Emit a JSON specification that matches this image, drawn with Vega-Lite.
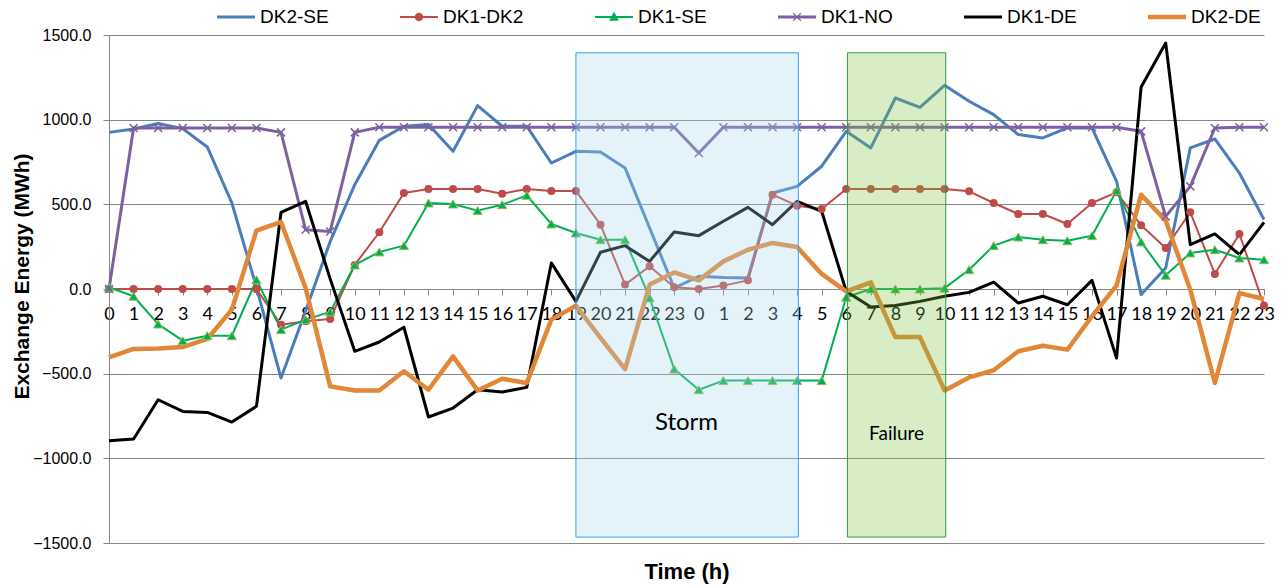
{
  "$schema": "https://vega.github.io/schema/vega-lite/v6.json",
  "autosize": "none",
  "width": 1155,
  "height": 508,
  "padding": {"left": 109, "top": 35, "right": 18, "bottom": 45},
  "background": "white",
  "config": {"view": {"stroke": null}},
  "datasets": {
    "bands": [
      {"label": "Storm", "start": 19, "end": 28.05, "lo": -1465, "hi": 1395, "lx": 23.5, "ly": -789},
      {"label": "Failure", "start": 30.05, "end": 34.05, "lo": -1465, "hi": 1395, "lx": 32.05, "ly": -854}
    ],
    "flows": [
      {"t":0,"s":"DK2-SE","v":925},{"t":1,"s":"DK2-SE","v":945},{"t":2,"s":"DK2-SE","v":977},{"t":3,"s":"DK2-SE","v":947},{"t":4,"s":"DK2-SE","v":839},{"t":5,"s":"DK2-SE","v":508},{"t":6,"s":"DK2-SE","v":10},{"t":7,"s":"DK2-SE","v":-526},{"t":8,"s":"DK2-SE","v":-130},{"t":9,"s":"DK2-SE","v":280},{"t":10,"s":"DK2-SE","v":616},{"t":11,"s":"DK2-SE","v":878},{"t":12,"s":"DK2-SE","v":961},{"t":13,"s":"DK2-SE","v":971},{"t":14,"s":"DK2-SE","v":813},{"t":15,"s":"DK2-SE","v":1083},{"t":16,"s":"DK2-SE","v":961},{"t":17,"s":"DK2-SE","v":961},{"t":18,"s":"DK2-SE","v":744},{"t":19,"s":"DK2-SE","v":813},{"t":20,"s":"DK2-SE","v":809},{"t":21,"s":"DK2-SE","v":715},{"t":22,"s":"DK2-SE","v":360},{"t":23,"s":"DK2-SE","v":6},{"t":24,"s":"DK2-SE","v":75},{"t":25,"s":"DK2-SE","v":68},{"t":26,"s":"DK2-SE","v":65},{"t":27,"s":"DK2-SE","v":567},{"t":28,"s":"DK2-SE","v":606},{"t":29,"s":"DK2-SE","v":725},{"t":30,"s":"DK2-SE","v":931},{"t":31,"s":"DK2-SE","v":833},{"t":32,"s":"DK2-SE","v":1128},{"t":33,"s":"DK2-SE","v":1073},{"t":34,"s":"DK2-SE","v":1203},{"t":35,"s":"DK2-SE","v":1109},{"t":36,"s":"DK2-SE","v":1030},{"t":37,"s":"DK2-SE","v":912},{"t":38,"s":"DK2-SE","v":892},{"t":39,"s":"DK2-SE","v":951},{"t":40,"s":"DK2-SE","v":951},{"t":41,"s":"DK2-SE","v":636},{"t":42,"s":"DK2-SE","v":-33},{"t":43,"s":"DK2-SE","v":124},{"t":44,"s":"DK2-SE","v":833},{"t":45,"s":"DK2-SE","v":886},{"t":46,"s":"DK2-SE","v":685},{"t":47,"s":"DK2-SE","v":410},
      {"t":0,"s":"DK1-DK2","v":0},{"t":1,"s":"DK1-DK2","v":0},{"t":2,"s":"DK1-DK2","v":0},{"t":3,"s":"DK1-DK2","v":0},{"t":4,"s":"DK1-DK2","v":0},{"t":5,"s":"DK1-DK2","v":0},{"t":6,"s":"DK1-DK2","v":0},{"t":7,"s":"DK1-DK2","v":-211},{"t":8,"s":"DK1-DK2","v":-191},{"t":9,"s":"DK1-DK2","v":-177},{"t":10,"s":"DK1-DK2","v":142},{"t":11,"s":"DK1-DK2","v":335},{"t":12,"s":"DK1-DK2","v":567},{"t":13,"s":"DK1-DK2","v":591},{"t":14,"s":"DK1-DK2","v":591},{"t":15,"s":"DK1-DK2","v":591},{"t":16,"s":"DK1-DK2","v":563},{"t":17,"s":"DK1-DK2","v":591},{"t":18,"s":"DK1-DK2","v":579},{"t":19,"s":"DK1-DK2","v":579},{"t":20,"s":"DK1-DK2","v":380},{"t":21,"s":"DK1-DK2","v":26},{"t":22,"s":"DK1-DK2","v":134},{"t":23,"s":"DK1-DK2","v":10},{"t":24,"s":"DK1-DK2","v":0},{"t":25,"s":"DK1-DK2","v":20},{"t":26,"s":"DK1-DK2","v":51},{"t":27,"s":"DK1-DK2","v":557},{"t":28,"s":"DK1-DK2","v":492},{"t":29,"s":"DK1-DK2","v":473},{"t":30,"s":"DK1-DK2","v":591},{"t":31,"s":"DK1-DK2","v":591},{"t":32,"s":"DK1-DK2","v":591},{"t":33,"s":"DK1-DK2","v":591},{"t":34,"s":"DK1-DK2","v":591},{"t":35,"s":"DK1-DK2","v":577},{"t":36,"s":"DK1-DK2","v":508},{"t":37,"s":"DK1-DK2","v":443},{"t":38,"s":"DK1-DK2","v":443},{"t":39,"s":"DK1-DK2","v":384},{"t":40,"s":"DK1-DK2","v":508},{"t":41,"s":"DK1-DK2","v":571},{"t":42,"s":"DK1-DK2","v":376},{"t":43,"s":"DK1-DK2","v":242},{"t":44,"s":"DK1-DK2","v":453},{"t":45,"s":"DK1-DK2","v":89},{"t":46,"s":"DK1-DK2","v":325},{"t":47,"s":"DK1-DK2","v":-98},
      {"t":0,"s":"DK1-SE","v":10},{"t":1,"s":"DK1-SE","v":-43},{"t":2,"s":"DK1-SE","v":-207},{"t":3,"s":"DK1-SE","v":-305},{"t":4,"s":"DK1-SE","v":-276},{"t":5,"s":"DK1-SE","v":-276},{"t":6,"s":"DK1-SE","v":55},{"t":7,"s":"DK1-SE","v":-240},{"t":8,"s":"DK1-SE","v":-181},{"t":9,"s":"DK1-SE","v":-135},{"t":10,"s":"DK1-SE","v":142},{"t":11,"s":"DK1-SE","v":219},{"t":12,"s":"DK1-SE","v":256},{"t":13,"s":"DK1-SE","v":508},{"t":14,"s":"DK1-SE","v":502},{"t":15,"s":"DK1-SE","v":463},{"t":16,"s":"DK1-SE","v":498},{"t":17,"s":"DK1-SE","v":553},{"t":18,"s":"DK1-SE","v":384},{"t":19,"s":"DK1-SE","v":331},{"t":20,"s":"DK1-SE","v":291},{"t":21,"s":"DK1-SE","v":291},{"t":22,"s":"DK1-SE","v":-53},{"t":23,"s":"DK1-SE","v":-473},{"t":24,"s":"DK1-SE","v":-595},{"t":25,"s":"DK1-SE","v":-541},{"t":26,"s":"DK1-SE","v":-541},{"t":27,"s":"DK1-SE","v":-541},{"t":28,"s":"DK1-SE","v":-541},{"t":29,"s":"DK1-SE","v":-541},{"t":30,"s":"DK1-SE","v":-49},{"t":31,"s":"DK1-SE","v":0},{"t":32,"s":"DK1-SE","v":0},{"t":33,"s":"DK1-SE","v":0},{"t":34,"s":"DK1-SE","v":5},{"t":35,"s":"DK1-SE","v":114},{"t":36,"s":"DK1-SE","v":256},{"t":37,"s":"DK1-SE","v":307},{"t":38,"s":"DK1-SE","v":291},{"t":39,"s":"DK1-SE","v":285},{"t":40,"s":"DK1-SE","v":315},{"t":41,"s":"DK1-SE","v":581},{"t":42,"s":"DK1-SE","v":278},{"t":43,"s":"DK1-SE","v":81},{"t":44,"s":"DK1-SE","v":213},{"t":45,"s":"DK1-SE","v":232},{"t":46,"s":"DK1-SE","v":183},{"t":47,"s":"DK1-SE","v":173},
      {"t":0,"s":"DK1-NO","v":0},{"t":1,"s":"DK1-NO","v":951},{"t":2,"s":"DK1-NO","v":951},{"t":3,"s":"DK1-NO","v":951},{"t":4,"s":"DK1-NO","v":951},{"t":5,"s":"DK1-NO","v":951},{"t":6,"s":"DK1-NO","v":951},{"t":7,"s":"DK1-NO","v":925},{"t":8,"s":"DK1-NO","v":350},{"t":9,"s":"DK1-NO","v":340},{"t":10,"s":"DK1-NO","v":925},{"t":11,"s":"DK1-NO","v":955},{"t":12,"s":"DK1-NO","v":955},{"t":13,"s":"DK1-NO","v":955},{"t":14,"s":"DK1-NO","v":955},{"t":15,"s":"DK1-NO","v":955},{"t":16,"s":"DK1-NO","v":955},{"t":17,"s":"DK1-NO","v":955},{"t":18,"s":"DK1-NO","v":955},{"t":19,"s":"DK1-NO","v":955},{"t":20,"s":"DK1-NO","v":955},{"t":21,"s":"DK1-NO","v":955},{"t":22,"s":"DK1-NO","v":955},{"t":23,"s":"DK1-NO","v":955},{"t":24,"s":"DK1-NO","v":803},{"t":25,"s":"DK1-NO","v":955},{"t":26,"s":"DK1-NO","v":955},{"t":27,"s":"DK1-NO","v":955},{"t":28,"s":"DK1-NO","v":955},{"t":29,"s":"DK1-NO","v":955},{"t":30,"s":"DK1-NO","v":955},{"t":31,"s":"DK1-NO","v":955},{"t":32,"s":"DK1-NO","v":955},{"t":33,"s":"DK1-NO","v":955},{"t":34,"s":"DK1-NO","v":955},{"t":35,"s":"DK1-NO","v":955},{"t":36,"s":"DK1-NO","v":955},{"t":37,"s":"DK1-NO","v":955},{"t":38,"s":"DK1-NO","v":955},{"t":39,"s":"DK1-NO","v":955},{"t":40,"s":"DK1-NO","v":955},{"t":41,"s":"DK1-NO","v":955},{"t":42,"s":"DK1-NO","v":931},{"t":43,"s":"DK1-NO","v":429},{"t":44,"s":"DK1-NO","v":606},{"t":45,"s":"DK1-NO","v":951},{"t":46,"s":"DK1-NO","v":955},{"t":47,"s":"DK1-NO","v":955},
      {"t":0,"s":"DK1-DE","v":-896},{"t":1,"s":"DK1-DE","v":-886},{"t":2,"s":"DK1-DE","v":-654},{"t":3,"s":"DK1-DE","v":-723},{"t":4,"s":"DK1-DE","v":-729},{"t":5,"s":"DK1-DE","v":-786},{"t":6,"s":"DK1-DE","v":-693},{"t":7,"s":"DK1-DE","v":453},{"t":8,"s":"DK1-DE","v":518},{"t":9,"s":"DK1-DE","v":60},{"t":10,"s":"DK1-DE","v":-368},{"t":11,"s":"DK1-DE","v":-313},{"t":12,"s":"DK1-DE","v":-226},{"t":13,"s":"DK1-DE","v":-756},{"t":14,"s":"DK1-DE","v":-703},{"t":15,"s":"DK1-DE","v":-595},{"t":16,"s":"DK1-DE","v":-608},{"t":17,"s":"DK1-DE","v":-581},{"t":18,"s":"DK1-DE","v":154},{"t":19,"s":"DK1-DE","v":-73},{"t":20,"s":"DK1-DE","v":217},{"t":21,"s":"DK1-DE","v":256},{"t":22,"s":"DK1-DE","v":163},{"t":23,"s":"DK1-DE","v":337},{"t":24,"s":"DK1-DE","v":315},{"t":25,"s":"DK1-DE","v":400},{"t":26,"s":"DK1-DE","v":482},{"t":27,"s":"DK1-DE","v":380},{"t":28,"s":"DK1-DE","v":518},{"t":29,"s":"DK1-DE","v":459},{"t":30,"s":"DK1-DE","v":-14},{"t":31,"s":"DK1-DE","v":-106},{"t":32,"s":"DK1-DE","v":-98},{"t":33,"s":"DK1-DE","v":-73},{"t":34,"s":"DK1-DE","v":-43},{"t":35,"s":"DK1-DE","v":-20},{"t":36,"s":"DK1-DE","v":41},{"t":37,"s":"DK1-DE","v":-83},{"t":38,"s":"DK1-DE","v":-43},{"t":39,"s":"DK1-DE","v":-93},{"t":40,"s":"DK1-DE","v":51},{"t":41,"s":"DK1-DE","v":-408},{"t":42,"s":"DK1-DE","v":1193},{"t":43,"s":"DK1-DE","v":1453},{"t":44,"s":"DK1-DE","v":262},{"t":45,"s":"DK1-DE","v":325},{"t":46,"s":"DK1-DE","v":203},{"t":47,"s":"DK1-DE","v":394},
      {"t":0,"s":"DK2-DE","v":-404},{"t":1,"s":"DK2-DE","v":-354},{"t":2,"s":"DK2-DE","v":-352},{"t":3,"s":"DK2-DE","v":-343},{"t":4,"s":"DK2-DE","v":-295},{"t":5,"s":"DK2-DE","v":-122},{"t":6,"s":"DK2-DE","v":345},{"t":7,"s":"DK2-DE","v":396},{"t":8,"s":"DK2-DE","v":6},{"t":9,"s":"DK2-DE","v":-575},{"t":10,"s":"DK2-DE","v":-599},{"t":11,"s":"DK2-DE","v":-599},{"t":12,"s":"DK2-DE","v":-486},{"t":13,"s":"DK2-DE","v":-595},{"t":14,"s":"DK2-DE","v":-398},{"t":15,"s":"DK2-DE","v":-599},{"t":16,"s":"DK2-DE","v":-530},{"t":17,"s":"DK2-DE","v":-555},{"t":18,"s":"DK2-DE","v":-181},{"t":19,"s":"DK2-DE","v":-98},{"t":20,"s":"DK2-DE","v":-289},{"t":21,"s":"DK2-DE","v":-473},{"t":22,"s":"DK2-DE","v":26},{"t":23,"s":"DK2-DE","v":98},{"t":24,"s":"DK2-DE","v":51},{"t":25,"s":"DK2-DE","v":163},{"t":26,"s":"DK2-DE","v":232},{"t":27,"s":"DK2-DE","v":272},{"t":28,"s":"DK2-DE","v":248},{"t":29,"s":"DK2-DE","v":89},{"t":30,"s":"DK2-DE","v":-14},{"t":31,"s":"DK2-DE","v":39},{"t":32,"s":"DK2-DE","v":-284},{"t":33,"s":"DK2-DE","v":-284},{"t":34,"s":"DK2-DE","v":-599},{"t":35,"s":"DK2-DE","v":-522},{"t":36,"s":"DK2-DE","v":-480},{"t":37,"s":"DK2-DE","v":-368},{"t":38,"s":"DK2-DE","v":-335},{"t":39,"s":"DK2-DE","v":-358},{"t":40,"s":"DK2-DE","v":-161},{"t":41,"s":"DK2-DE","v":20},{"t":42,"s":"DK2-DE","v":557},{"t":43,"s":"DK2-DE","v":404},{"t":44,"s":"DK2-DE","v":-4},{"t":45,"s":"DK2-DE","v":-555},{"t":46,"s":"DK2-DE","v":-24},{"t":47,"s":"DK2-DE","v":-59}
    ]
  },
  "layer": [
    {
      "data": {"name": "flows"},
      "transform": [{"filter": "datum.t < 0"}],
      "mark": {"type": "point", "filled": true, "opacity": 1},
      "encoding": {
        "x": {
          "field": "t", "type": "quantitative", "title": "Time (h)",
          "scale": {"domain": [0, 47], "nice": false, "zero": false},
          "axis": {
            "values": [0,1,2,3,4,5,6,7,8,9,10,11,12,13,14,15,16,17,18,19,20,21,22,23,24,25,26,27,28,29,30,31,32,33,34,35,36,37,38,39,40,41,42,43,44,45,46,47],
            "tickCount": 48,
            "labelExpr": "datum.value % 24",
            "offset": -254,
            "grid": false,
            "domainColor": "#868686",
            "tickColor": "#868686",
            "tickSize": 6,
            "labelFont": "Lato",
            "labelFontSize": 18,
            "labelColor": "#000000",
            "labelPadding": 10,
            "labelAngle": 0,
            "labelFlush": false,
            "labelOverlap": false,
            "labelSeparation": 0,
            "titleFont": "Liberation Sans",
            "titleFontSize": 22,
            "titleFontWeight": "bold",
            "titleColor": "#000000",
            "titleBaseline": "middle",
            "titleY": 282
          }
        },
        "y": {
          "field": "v", "type": "quantitative", "title": "Exchange Energy (MWh)",
          "scale": {"domain": [-1500, 1500], "nice": false, "zero": false},
          "axis": {
            "values": [-1500, -1000, -500, 0, 500, 1000, 1500],
            "format": ".1f",
            "grid": true,
            "gridColor": "#868686",
            "gridWidth": 1,
            "domainColor": "#868686",
            "tickColor": "#868686",
            "tickSize": 6,
            "labelFont": "Liberation Sans",
            "labelFontSize": 16,
            "labelColor": "#000000",
            "labelPadding": 12,
            "titleFont": "Liberation Sans",
            "titleFontSize": 21,
            "titleFontWeight": "bold",
            "titleColor": "#000000",
            "titleBaseline": "middle",
            "titleX": -87,
            "titleY": 241
          }
        },
        "color": {
          "field": "s", "type": "nominal",
          "scale": {"domain": ["DK2-SE","DK1-DK2","DK1-SE","DK1-NO","DK1-DE","DK2-DE"], "range": ["#4A7EBB","#BE4B48","#00B050","#7D60A0","#000000","#E18737"]},
          "legend": {
            "title": null,
            "orient": "none",
            "direction": "horizontal",
            "legendX": 108,
            "legendY": -37,
            "padding": 0,
            "offset": 0,
            "gridAlign": "none",
            "columnPadding": 71,
            "symbolSize": 1444,
            "symbolStrokeWidth": 0,
            "symbolOpacity": 1,
            "labelOffset": 5,
            "labelFont": "Liberation Sans",
            "labelFontSize": 19,
            "labelColor": "#000000",
            "labelLimit": 200
          }
        },
        "shape": {
          "field": "s", "type": "nominal",
          "scale": {
            "domain": ["DK2-SE","DK1-DK2","DK1-SE","DK1-NO","DK1-DE","DK2-DE"],
            "range": [
              "M-1,-0.08H1V0.08H-1Z",
              "M-1,-0.053H1V0.053H-1ZM-0.22,0A0.22,0.22 0 1,1 0.22,0A0.22,0.22 0 1,1 -0.22,0Z",
              "M-1,-0.053H1V0.053H-1ZM0,-0.28L0.26,0.2L-0.26,0.2Z",
              "M-1,-0.08H1V0.08H-1ZM-0.23,-0.18L-0.18,-0.23L0.23,0.18L0.18,0.23ZM0.18,-0.23L0.23,-0.18L-0.18,0.23L-0.23,0.18Z",
              "M-1,-0.08H1V0.08H-1Z",
              "M-1,-0.118H1V0.118H-1Z"
            ]
          },
          "legend": {
            "title": null,
            "orient": "none",
            "direction": "horizontal",
            "legendX": 108,
            "legendY": -37,
            "padding": 0,
            "offset": 0,
            "gridAlign": "none",
            "columnPadding": 71,
            "symbolSize": 1444,
            "symbolStrokeWidth": 0,
            "symbolOpacity": 1,
            "labelOffset": 5,
            "labelFont": "Liberation Sans",
            "labelFontSize": 19,
            "labelColor": "#000000",
            "labelLimit": 200
          }
        }
      }
    },
    {
      "data": {"name": "flows"},
      "mark": {"type": "line", "strokeJoin": "round"},
      "encoding": {
        "x": {"field": "t", "type": "quantitative", "title": "Time (h)"},
        "y": {"field": "v", "type": "quantitative", "title": "Exchange Energy (MWh)"},
        "color": {"field": "s", "type": "nominal"},
        "strokeWidth": {
          "condition": [
            {"test": "datum.s === 'DK2-DE'", "value": 4.5},
            {"test": "datum.s === 'DK1-DK2' || datum.s === 'DK1-SE'", "value": 2}
          ],
          "value": 3
        },
        "order": {"field": "t", "type": "quantitative"}
      }
    },
    {
      "data": {"name": "flows"},
      "transform": [{"filter": "datum.s === 'DK1-DK2'"}],
      "mark": {"type": "point", "shape": "circle", "filled": true, "size": 64, "color": "#BE4B48", "opacity": 1},
      "encoding": {
        "x": {"field": "t", "type": "quantitative", "title": "Time (h)"},
        "y": {"field": "v", "type": "quantitative", "title": "Exchange Energy (MWh)"}
      }
    },
    {
      "data": {"name": "flows"},
      "transform": [{"filter": "datum.s === 'DK1-SE'"}],
      "mark": {"type": "point", "shape": "triangle-up", "filled": true, "size": 85, "fill": "#00B050", "stroke": "#9BBB59", "strokeWidth": 1, "opacity": 1},
      "encoding": {
        "x": {"field": "t", "type": "quantitative", "title": "Time (h)"},
        "y": {"field": "v", "type": "quantitative", "title": "Exchange Energy (MWh)"}
      }
    },
    {
      "data": {"name": "flows"},
      "transform": [{"filter": "datum.s === 'DK1-NO'"}],
      "mark": {"type": "point", "shape": "M-1,-1L1,1M-1,1L1,-1", "filled": false, "size": 64, "stroke": "#7D60A0", "strokeWidth": 1.5, "opacity": 1},
      "encoding": {
        "x": {"field": "t", "type": "quantitative", "title": "Time (h)"},
        "y": {"field": "v", "type": "quantitative", "title": "Exchange Energy (MWh)"}
      }
    },
    {
      "data": {"name": "bands"},
      "mark": {"type": "rect", "fillOpacity": 0.3, "strokeWidth": 1},
      "encoding": {
        "x": {"field": "start", "type": "quantitative", "title": "Time (h)"},
        "x2": {"field": "end"},
        "y": {"field": "lo", "type": "quantitative", "title": "Exchange Energy (MWh)"},
        "y2": {"field": "hi"},
        "fill": {"field": "label", "type": "nominal", "scale": {"domain": ["Storm", "Failure"], "range": ["#A5D7EB", "#7DC041"]}, "legend": null},
        "stroke": {"field": "label", "type": "nominal", "scale": {"domain": ["Storm", "Failure"], "range": ["#3AA0F0", "#2F9A46"]}, "legend": null}
      }
    },
    {
      "data": {"name": "bands"},
      "mark": {"type": "text", "font": "Lato", "color": "#000000", "align": "center", "baseline": "middle"},
      "encoding": {
        "x": {"field": "lx", "type": "quantitative", "title": "Time (h)"},
        "y": {"field": "ly", "type": "quantitative", "title": "Exchange Energy (MWh)"},
        "text": {"field": "label", "type": "nominal"},
        "size": {"field": "label", "type": "nominal", "scale": {"type": "ordinal", "domain": ["Storm", "Failure"], "range": [24, 19]}, "legend": null}
      }
    }
  ]
}
